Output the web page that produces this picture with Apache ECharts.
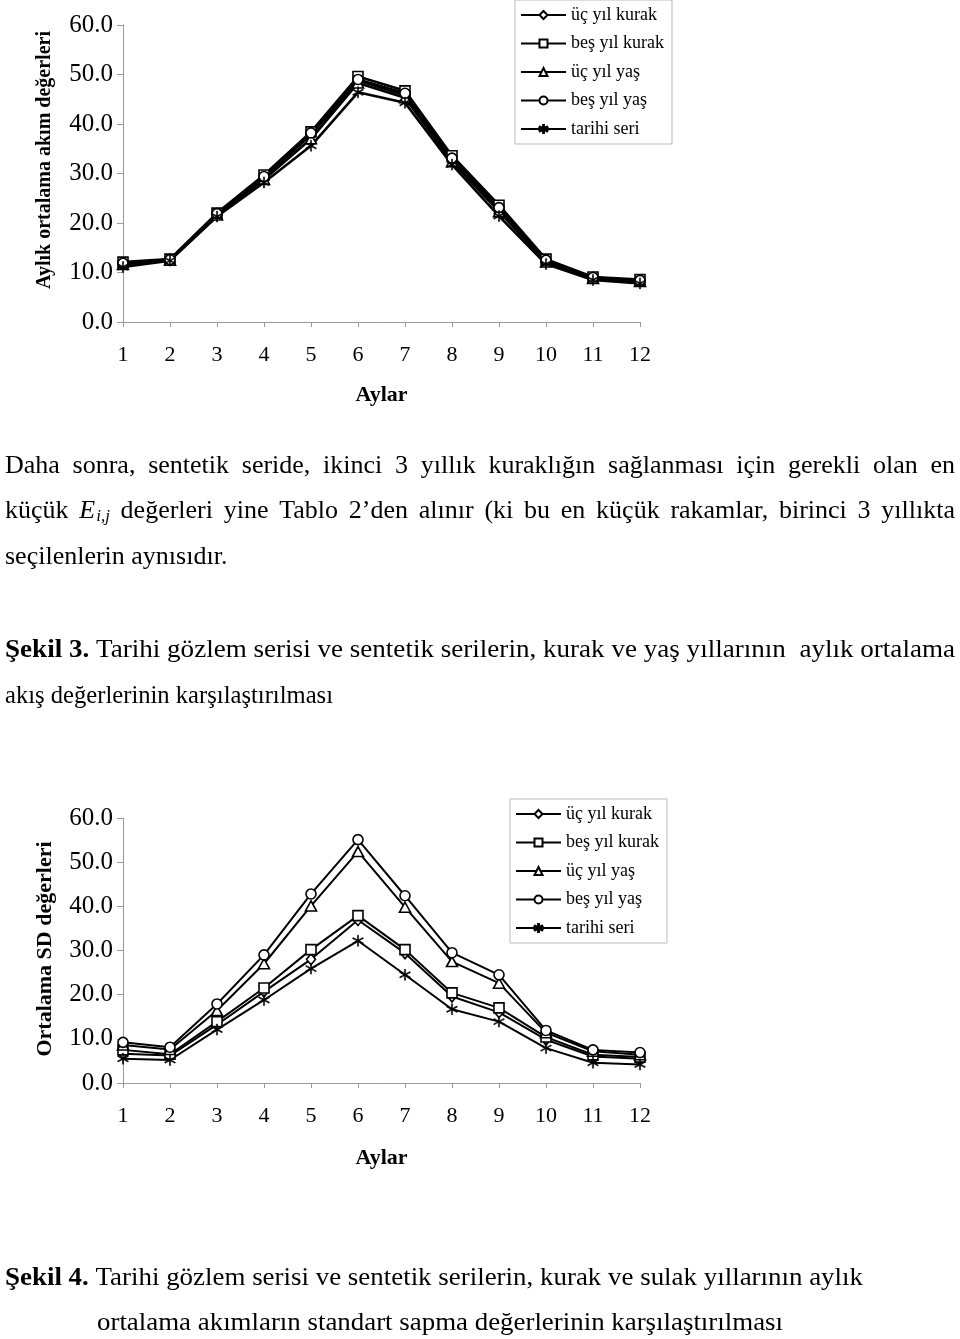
<!DOCTYPE html>
<html><head><meta charset="utf-8">
<script src="https://cdn.jsdelivr.net/npm/echarts@6/dist/echarts.min.js"></script>
<style>html,body{margin:0;padding:0;background:#fff}#c{width:960px;height:1339px}</style>
</head><body><div id="c"></div>
<script>
// ---------- DATA ----------
const months = ['1','2','3','4','5','6','7','8','9','10','11','12'];
const seriesNames = ['üç yıl kurak','beş yıl kurak','üç yıl yaş','beş yıl yaş','tarihi seri'];
const yTickMin = 0, yTickMax = 60, yTickStep = 10;

// Şekil 3 – monthly mean flow
const flowUcKurak   = [11.8, 12.6, 21.8, 29.2, 37.8, 48.8, 45.8, 32.8, 22.8, 12.3, 8.9, 8.4];
const flowBesKurak  = [12.1, 12.7, 22.0, 29.7, 38.4, 49.6, 46.7, 33.6, 23.6, 12.7, 9.1, 8.6];
const flowUcYas     = [11.6, 12.5, 21.6, 28.8, 37.0, 48.3, 45.3, 32.4, 22.3, 12.1, 8.8, 8.2];
const flowBesYas    = [11.9, 12.6, 21.9, 29.4, 38.2, 49.0, 46.2, 33.1, 23.1, 12.5, 9.0, 8.4];
const flowTarihi    = [11.1, 12.4, 21.3, 28.2, 35.6, 46.4, 44.3, 31.8, 21.4, 11.7, 8.5, 7.8];

// Şekil 4 – mean standard deviation
const sdUcKurak   = [6.6, 6.2, 13.2, 20.7, 28.0, 36.9, 29.4, 19.6, 16.0, 9.8, 6.0, 5.5];
const sdBesKurak  = [7.5, 6.5, 13.9, 21.5, 30.2, 37.9, 30.2, 20.4, 17.0, 10.4, 6.4, 5.9];
const sdUcYas     = [8.6, 7.6, 16.4, 27.0, 40.1, 52.4, 39.8, 27.5, 22.6, 11.4, 7.2, 6.4];
const sdBesYas    = [9.2, 8.1, 17.9, 29.0, 42.8, 55.1, 42.4, 29.5, 24.5, 11.9, 7.5, 6.9];
const sdTarihi    = [5.5, 5.2, 12.1, 18.8, 25.9, 32.2, 24.5, 16.7, 13.9, 7.9, 4.6, 4.2];

// ---------- TEXT ----------
const para1 = 'Daha sonra, sentetik seride, ikinci 3 yıllık kuraklığın sağlanması için gerekli olan en';
const para2a = 'küçük';
const para2b = 'değerleri yine Tablo 2’den alınır (ki bu en küçük rakamlar, birinci 3 yıllıkta';
const para3 = 'seçilenlerin aynısıdır.';
const cap3Bold = 'Şekil 3.';
const cap3Line1 = ' Tarihi gözlem serisi ve sentetik serilerin, kurak ve yaş yıllarının  aylık ortalama';
const cap3Line2 = 'akış değerlerinin karşılaştırılması';
const cap4Bold = 'Şekil 4.';
const cap4Line1 = ' Tarihi gözlem serisi ve sentetik serilerin, kurak ve sulak yıllarının aylık';
const cap4Line2 = 'ortalama akımların standart sapma değerlerinin karşılaştırılması';
const yName1 = 'Aylık ortalama akım değerleri';
const yName2 = 'Ortalama SD değerleri';
const xName = 'Aylar';

// ---------- STYLE ----------
const FF = "'Liberation Serif','Times New Roman',serif";
const PF = "26px " + FF;
const mctx = document.createElement('canvas').getContext('2d');
function mw(t, f){ mctx.font = f; return mctx.measureText(t).width; }

const STAR = 'path://M9,0L11,0L11,20L9,20Z M1.84,4.13L19.16,14.13L18.16,15.87L0.84,5.87Z M0.84,14.13L18.16,4.13L19.16,5.87L1.84,15.87Z';
const symbols = ['diamond','rect','triangle','circle', STAR];
const symSizes = [[9,11],[10,10],[11,10],[10,10],[11,11]];

const graphics = [];
function txt(x, y, t, f, extra){
  return Object.assign({type:'text', x:x, y:y, silent:true,
    style:{text:t, font:f, fill:'#000', textAlign:'left', textVerticalAlign:'middle'}}, extra||{});
}
function justify(tokens, x0, x1, y){
  const sum = tokens.reduce((a,t)=>a+t.w,0);
  const gap = (x1-x0-sum)/(tokens.length-1);
  let x = x0;
  tokens.forEach(t=>{ t.els(x, y).forEach(e=>graphics.push(e)); x += t.w + gap; });
}
function wordTok(w){ return {w: mw(w, PF), els:(x,y)=>[txt(x,y,w,PF)]}; }
justify(para1.split(' ').map(wordTok), 5, 955, 466);
const eTok = (function(){
  const fE = 'italic 26px '+FF, fS = 'italic 17px '+FF;
  const wE = mw('E', fE), wS = mw('i,j', fS);
  return {w: wE + wS + 1, els:(x,y)=>[txt(x,y,'E',fE), txt(x+wE+1,y+6,'i,j',fS)]};
})();
justify([wordTok(para2a), eTok].concat(para2b.split(' ').map(wordTok)), 5, 955, 511);
graphics.push(txt(5, 557, para3, PF));

function caption(x0, x1, y, boldPart, rest){
  const fb = 'bold 26px '+FF;
  const wb = boldPart ? mw(boldPart, fb) : 0;
  const wr = mw(rest, PF);
  const k = (x1-x0)/(wb+wr);
  const ch = [];
  if (boldPart) ch.push(txt(0,0,boldPart,fb));
  ch.push(txt(wb,0,rest,PF));
  graphics.push({type:'group', x:x0, y:y, scaleX:k, children:ch});
}
caption(5, 955, 650, cap3Bold, cap3Line1);
caption(5, 333, 696, '', cap3Line2);
caption(5, 863, 1278, cap4Bold, cap4Line1);
caption(97, 783, 1323, '', cap4Line2);

function vName(x, y, t, size){
  return {type:'text', x:x, y:y, rotation:Math.PI/2, silent:true,
    style:{text:t, font:'bold '+size+'px '+FF, fill:'#000', textAlign:'center', textVerticalAlign:'middle'}};
}
graphics.push(vName(45, 160, yName1, 20));
graphics.push(vName(45, 949, yName2, 22));

// ---------- CHART ----------
const AX = '#9a9a9a';
function xAx(gi){
  return {type:'category', gridIndex:gi, data:months, boundaryGap:false,
    name:xName, nameLocation:'middle', nameGap: gi===0?62:64,
    nameTextStyle:{fontFamily:FF, fontWeight:'bold', fontSize:22, color:'#000'},
    axisLine:{lineStyle:{color:AX, width:1}}, axisTick:{show:true, length:5, lineStyle:{color:AX}},
    axisLabel:{fontFamily:FF, fontSize:22, color:'#000', margin:22},
    splitLine:{show:false}};
}
function yAx(gi){
  return {type:'value', gridIndex:gi, min:yTickMin, max:yTickMax, interval:yTickStep,
    axisLine:{show:true, lineStyle:{color:AX, width:1}}, axisTick:{show:true, length:6, lineStyle:{color:AX}},
    axisLabel:{fontFamily:FF, fontSize:25, color:'#000', margin:10, formatter:v=>v.toFixed(1)},
    splitLine:{show:false}};
}
function mkSeries(gi, arrs, lw){
  return arrs.map((d,i)=>({
    type:'line', name:seriesNames[i], xAxisIndex:gi, yAxisIndex:gi, data:d,
    symbol:symbols[i], symbolSize:symSizes[i], showAllSymbol:true, animation:false,
    lineStyle:{color:'#000', width:lw},
    itemStyle: i===4 ? {color:'#000', borderColor:'#000', borderWidth:0.5}
                     : {color:'#fff', borderColor:'#000', borderWidth:1.6},
    emphasis:{disabled:true}
  }));
}
function legend(left, top){
  return {data:seriesNames, orient:'vertical', left:left, top:top, padding:[6,8,6,5],
    itemGap:10.5, itemWidth:45, itemHeight:10, selectedMode:false,
    textStyle:{fontFamily:FF, fontSize:18, color:'#000', lineHeight:18},
    borderColor:'#bbb', borderWidth:1, backgroundColor:'#fff'};
}

const chart = echarts.init(document.getElementById('c'), null, {renderer:'canvas'});
chart.setOption({
  backgroundColor:'#fff',
  animation:false,
  grid:[{left:123, right:320, top:25, bottom:1017},
        {left:123, right:320, top:818, bottom:256}],
  xAxis:[xAx(0), xAx(1)],
  yAxis:[yAx(0), yAx(1)],
  legend:[legend(515, 0), legend(510, 799)],
  series: mkSeries(0, [flowUcKurak, flowBesKurak, flowUcYas, flowBesYas, flowTarihi], 2.6)
    .concat(mkSeries(1, [sdUcKurak, sdBesKurak, sdUcYas, sdBesYas, sdTarihi], 2)),
  graphic: graphics
});
</script>
</body></html>
